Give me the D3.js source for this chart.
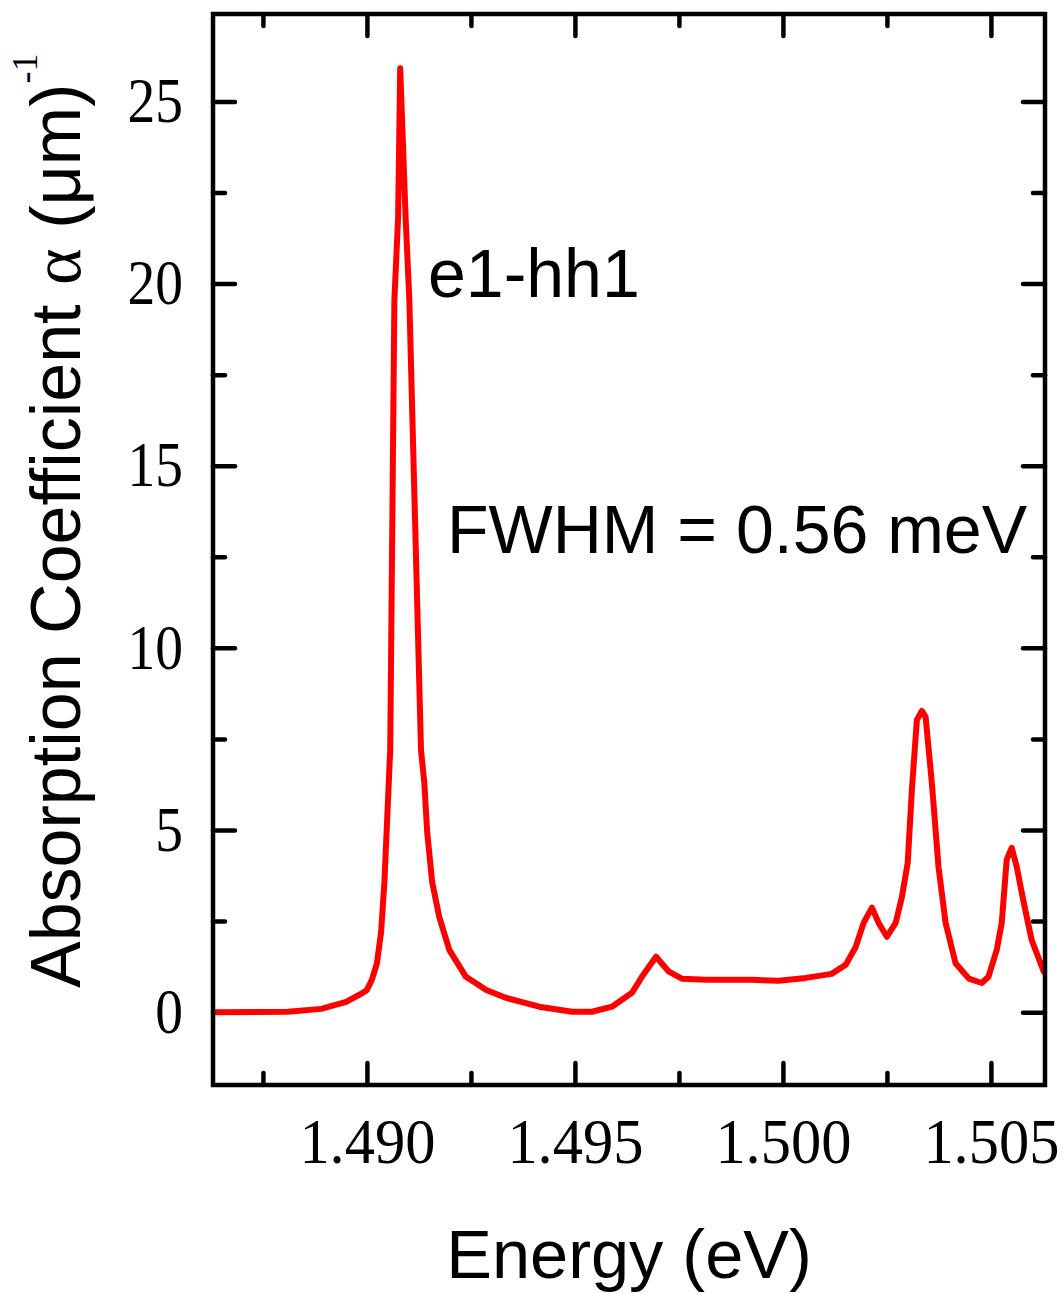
<!DOCTYPE html>
<html>
<head>
<meta charset="utf-8">
<script src="https://cdn.jsdelivr.net/npm/d3@7"></script>
<style>
  html, body { margin: 0; padding: 0; background: #fff; }
  svg { display: block; }
</style>
</head>
<body>
<svg id="chart" width="1063" height="1294"></svg>
<script>
// Absorption spectrum: photon energy (eV) and absorption coefficient (µm^-1)
const energy = [
  1.4863, 1.4881, 1.4889, 1.4895, 1.4899, 1.4900, 1.49012, 1.49024, 1.49034,
  1.49042, 1.49049, 1.49056, 1.49066, 1.49075, 1.49080, 1.49093, 1.49102,
  1.49130, 1.49138, 1.49145, 1.49157, 1.49174, 1.49198, 1.49238, 1.49287,
  1.49335, 1.49414, 1.49493, 1.49541, 1.49589, 1.49637, 1.49661, 1.49695,
  1.49726, 1.49757, 1.49815, 1.49925, 1.49990, 1.50055, 1.50117, 1.50151,
  1.50175, 1.50194, 1.50214, 1.50230, 1.50250, 1.50271, 1.50286, 1.50300,
  1.50310, 1.50322, 1.50334, 1.50343, 1.50358, 1.50374, 1.50391, 1.50415,
  1.50447, 1.50478, 1.50494, 1.50514, 1.50526, 1.50538, 1.50550, 1.50562,
  1.50579, 1.50598, 1.50627
];
const alpha = [
  0.00, 0.01, 0.09, 0.28, 0.53, 0.61, 0.89, 1.34, 2.19,
  3.56, 5.38, 7.20, 19.54, 21.82, 25.91, 21.82, 19.54,
  7.20, 6.29, 4.92, 3.56, 2.61, 1.71, 0.97, 0.61,
  0.39, 0.15, 0.01, 0.01, 0.15, 0.53, 0.97, 1.52,
  1.11, 0.92, 0.89, 0.89, 0.86, 0.94, 1.05, 1.30,
  1.79, 2.45, 2.87, 2.45, 2.07, 2.45, 3.16, 4.10,
  6.10, 8.02, 8.27, 8.10, 6.29, 3.99, 2.45, 1.34,
  0.92, 0.80, 0.97, 1.71, 2.45, 4.19, 4.51, 3.99,
  3.00, 1.98, 1.11
];

// Axis ranges and tick positions
const xDomain = [1.4863, 1.5063];
const yDomain = [-2, 27.4];
const xMajorTicks = [1.490, 1.495, 1.500, 1.505];
const xMinorTicks = [1.4875, 1.4925, 1.4975, 1.5025];
const yMajorTicks = [0, 5, 10, 15, 20, 25];
const yMinorTicks = [2.5, 7.5, 12.5, 17.5, 22.5];

const xTitle = "Energy (eV)";
const peakLabel = "e1-hh1";
const widthLabel = "FWHM = 0.56 meV";

const svg = d3.select("#chart");
const plot = { left: 213, right: 1045, top: 14, bottom: 1085 };

const x = d3.scaleLinear().domain(xDomain).range([plot.left, plot.right]);
const y = d3.scaleLinear().domain(yDomain).range([plot.bottom, plot.top]);

const serif = "'Liberation Serif', 'Times New Roman', serif";
const sans = "'Liberation Sans', Arial, sans-serif";
const majorLen = 22, minorLen = 12, axisW = 4.5;

function styleAxis(g) {
  g.select(".domain").remove();
  g.selectAll(".tick line")
    .attr("stroke", "#000")
    .attr("stroke-width", axisW)
    .attr("stroke-linecap", "round");
  g.selectAll(".tick text")
    .attr("fill", "#000")
    .style("font-family", serif)
    .style("font-size", "63px");
}

// Bottom axis: inward ticks with slightly condensed labels
svg.append("g")
  .attr("transform", `translate(0,${plot.bottom})`)
  .call(d3.axisBottom(x).tickValues(xMajorTicks).tickSizeInner(-majorLen).tickSizeOuter(0)
        .tickPadding(33).tickFormat(d3.format(".3f")))
  .call(styleAxis)
  .call(g => g.selectAll(".tick text").attr("transform", "scale(0.96,1)"));
svg.append("g")
  .attr("transform", `translate(0,${plot.bottom})`)
  .call(d3.axisBottom(x).tickValues(xMinorTicks).tickSizeInner(-minorLen).tickSizeOuter(0).tickFormat(""))
  .call(styleAxis);

// Top axis: mirrored ticks
svg.append("g")
  .attr("transform", `translate(0,${plot.top})`)
  .call(d3.axisTop(x).tickValues(xMajorTicks).tickSizeInner(-majorLen).tickSizeOuter(0).tickFormat(""))
  .call(styleAxis);
svg.append("g")
  .attr("transform", `translate(0,${plot.top})`)
  .call(d3.axisTop(x).tickValues(xMinorTicks).tickSizeInner(-minorLen).tickSizeOuter(0).tickFormat(""))
  .call(styleAxis);

// Left axis: labels condensed about their right edge
const yPad = 30;
svg.append("g")
  .attr("transform", `translate(${plot.left},0)`)
  .call(d3.axisLeft(y).tickValues(yMajorTicks).tickSizeInner(-majorLen).tickSizeOuter(0)
        .tickPadding(yPad).tickFormat(d3.format("d")))
  .call(styleAxis)
  .call(g => g.selectAll(".tick text")
    .attr("x", 0)
    .attr("transform", `translate(${-yPad},0) scale(0.88,1)`));
svg.append("g")
  .attr("transform", `translate(${plot.left},0)`)
  .call(d3.axisLeft(y).tickValues(yMinorTicks).tickSizeInner(-minorLen).tickSizeOuter(0).tickFormat(""))
  .call(styleAxis);

// Right axis: mirrored ticks
svg.append("g")
  .attr("transform", `translate(${plot.right},0)`)
  .call(d3.axisRight(y).tickValues(yMajorTicks).tickSizeInner(-majorLen).tickSizeOuter(0).tickFormat(""))
  .call(styleAxis);
svg.append("g")
  .attr("transform", `translate(${plot.right},0)`)
  .call(d3.axisRight(y).tickValues(yMinorTicks).tickSizeInner(-minorLen).tickSizeOuter(0).tickFormat(""))
  .call(styleAxis);

// Spectrum curve, clipped to the plot box
svg.append("clipPath").attr("id", "plotClip")
  .append("rect")
  .attr("x", plot.left).attr("y", plot.top)
  .attr("width", plot.right - plot.left).attr("height", plot.bottom - plot.top);

const points = energy.map((e, i) => [e, alpha[i]]);
const line = d3.line()
  .x(d => x(d[0]))
  .y(d => y(d[1]))
  .curve(d3.curveLinear);

svg.append("path")
  .datum(points)
  .attr("clip-path", "url(#plotClip)")
  .attr("fill", "none")
  .attr("stroke", "#ff0000")
  .attr("stroke-width", 6)
  .attr("stroke-linejoin", "round")
  .attr("stroke-linecap", "round")
  .attr("d", line);

// Frame
svg.append("rect")
  .attr("x", plot.left).attr("y", plot.top)
  .attr("width", plot.right - plot.left).attr("height", plot.bottom - plot.top)
  .attr("fill", "none")
  .attr("stroke", "#000")
  .attr("stroke-width", axisW);

// Axis titles
svg.append("text")
  .attr("x", (plot.left + plot.right) / 2)
  .attr("y", 1278)
  .attr("text-anchor", "middle")
  .style("font-family", sans)
  .style("font-size", "68.5px")
  .text(xTitle);

const yTitle = svg.append("text")
  .attr("transform", "translate(80,988) rotate(-90)")
  .attr("text-anchor", "start")
  .style("font-family", sans)
  .style("font-size", "70px");
yTitle.append("tspan").text("Absorption Coefficient ");
yTitle.append("tspan").style("font-family", serif).text("α");
yTitle.append("tspan").text(" (μm)");
yTitle.append("tspan")
  .attr("dy", -43)
  .style("font-family", serif)
  .style("font-size", "36px")
  .text("-1");

// Annotations
svg.append("text")
  .attr("x", 428).attr("y", 297)
  .style("font-family", sans)
  .style("font-size", "68px")
  .text(peakLabel);

svg.append("text")
  .attr("x", 447).attr("y", 553)
  .style("font-family", sans)
  .style("font-size", "68px")
  .text(widthLabel);
</script>
</body>
</html>
